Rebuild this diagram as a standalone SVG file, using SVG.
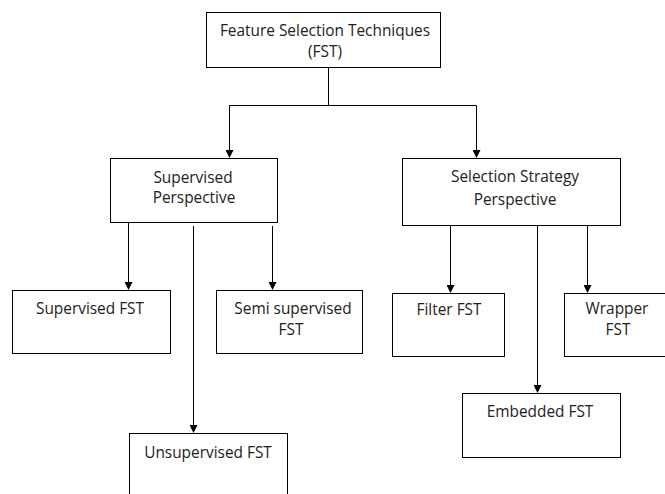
<svg xmlns="http://www.w3.org/2000/svg" width="665" height="494" viewBox="0 0 665 494">
<defs>
<marker id="arr" markerWidth="8" markerHeight="8" refX="7" refY="4" orient="auto" markerUnits="userSpaceOnUse">
<path d="M0,0 L8,4 L0,8 Z" fill="#000"/>
</marker>
<style>
.box{fill:#fff;stroke:#000;stroke-width:1}
.t{font-family:"Open Sans","Liberation Sans",Arial,sans-serif;font-size:15.4px;fill:#222;text-anchor:middle}
.c{fill:none;stroke:#000;stroke-width:1}
</style>
</defs>
<rect width="665" height="494" fill="#fff"/>
<g id="connectors">
<path class="c" d="M328.5,67 V105.5"/>
<path class="c" d="M229.5,105.5 H476.5"/>
<path class="c" d="M229.5,105.5 V157" marker-end="url(#arr)"/>
<path class="c" d="M476.5,105.5 V157" marker-end="url(#arr)"/>
<path class="c" d="M128.5,222 V289" marker-end="url(#arr)"/>
<path class="c" d="M272.5,226 V289" marker-end="url(#arr)"/>
<path class="c" d="M193.5,226 V432" marker-end="url(#arr)"/>
<path class="c" d="M450.5,225 V292" marker-end="url(#arr)"/>
<path class="c" d="M587.5,225 V292" marker-end="url(#arr)"/>
<path class="c" d="M537.5,225 V392" marker-end="url(#arr)"/>
</g>
<g id="fst">
<rect class="box" x="206.5" y="12.5" width="234" height="55"/>
<text class="t" x="325" y="36">Feature Selection Techniques</text>
<text class="t" x="325" y="57">(FST)</text>
</g>
<g id="supervised-perspective">
<rect class="box" x="110.5" y="158.5" width="167" height="64"/>
<text class="t" x="193" y="183">Supervised</text>
<text class="t" x="194" y="203">Perspective</text>
</g>
<g id="selection-strategy">
<rect class="box" x="402.5" y="158.5" width="218" height="67"/>
<text class="t" x="515" y="182">Selection Strategy</text>
<text class="t" x="515" y="205">Perspective</text>
</g>
<g id="supervised-fst">
<rect class="box" x="12.5" y="290.5" width="158" height="63"/>
<text class="t" x="90" y="314">Supervised FST</text>
</g>
<g id="semi-supervised-fst">
<rect class="box" x="216.5" y="290.5" width="146" height="63"/>
<text class="t" x="293" y="314">Semi supervised</text>
<text class="t" x="291" y="335">FST</text>
</g>
<g id="unsupervised-fst">
<rect class="box" x="129.5" y="433.5" width="158" height="70"/>
<text class="t" x="208" y="458">Unsupervised FST</text>
</g>
<g id="filter-fst">
<rect class="box" x="392.5" y="293.5" width="112" height="63"/>
<text class="t" x="449" y="315">Filter FST</text>
</g>
<g id="wrapper-fst">
<rect class="box" x="564.5" y="293.5" width="110" height="63"/>
<text class="t" x="617" y="314">Wrapper</text>
<text class="t" x="618" y="335">FST</text>
</g>
<g id="embedded-fst">
<rect class="box" x="462.5" y="393.5" width="158" height="64"/>
<text class="t" x="540" y="417">Embedded FST</text>
</g>
</svg>
